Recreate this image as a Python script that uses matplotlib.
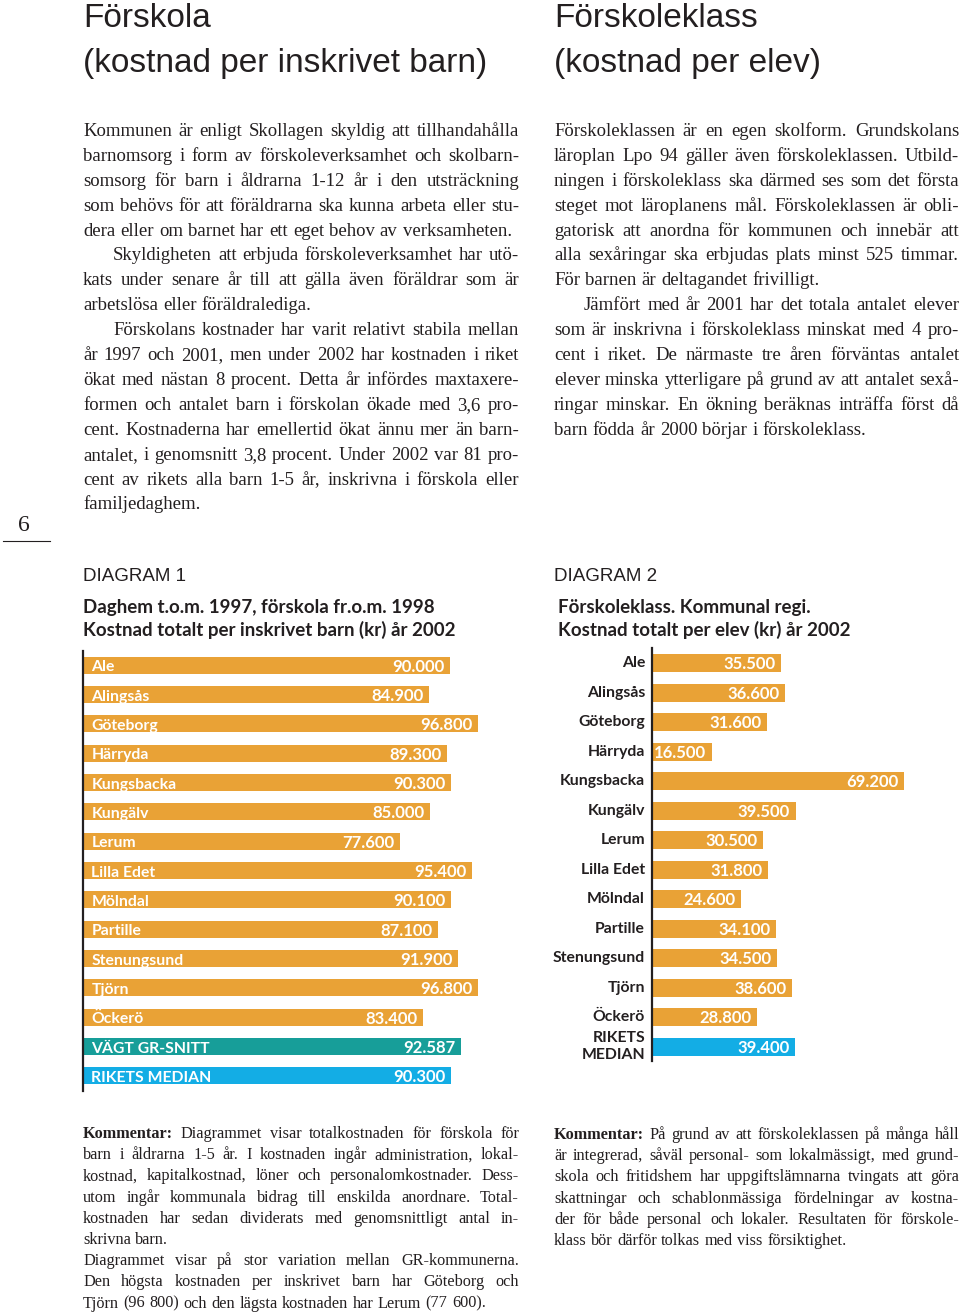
import matplotlib
matplotlib.use("Agg")
import matplotlib.pyplot as plt

# Figure size in pixels (dpi 100)
W, H = 960, 1312
DARK = "#231F20"
ORANGE = "#E9A236"
TEAL = "#179E99"
BLUE = "#13ADE5"
SERIF = ["Liberation Serif", "DejaVu Serif"]
SANS = ["Liberation Sans", "DejaVu Sans"]
BOLD = ["Lato", "DejaVu Sans"]

# Diagram 1: förskola, kostnad per inskrivet barn (kr) 2002
forskola_kommuner = ["Ale", "Alingsås", "Göteborg", "Härryda", "Kungsbacka", "Kungälv",
                     "Lerum", "Lilla Edet", "Mölndal", "Partille", "Stenungsund", "Tjörn",
                     "Öckerö", "VÄGT GR-SNITT", "RIKETS MEDIAN"]
forskola_kostnad = [90000, 84900, 96800, 89300, 90300, 85000, 77600, 95400, 90100, 87100,
                    91900, 96800, 83400, 92587, 90300]

# Diagram 2: förskoleklass, kostnad per elev (kr) 2002
fklass_kommuner = ["Ale", "Alingsås", "Göteborg", "Härryda", "Kungsbacka", "Kungälv",
                   "Lerum", "Lilla Edet", "Mölndal", "Partille", "Stenungsund", "Tjörn",
                   "Öckerö", "RIKETS\nMEDIAN"]
fklass_kostnad = [35500, 36600, 31600, 16500, 69200, 39500, 30500, 31800, 24600, 34100,
                  34500, 38600, 28800, 39400]

text_vanster = [
    ["Kommunen är enligt Skollagen skyldig att tillhandahålla",
     "barnomsorg i form av förskoleverksamhet och skolbarn-",
     "somsorg för barn i åldrarna 1-12 år i den utsträckning",
     "som behövs för att föräldrarna ska kunna arbeta eller stu-",
     "dera eller om barnet har ett eget behov av verksamheten."],
    ["Skyldigheten att erbjuda förskoleverksamhet har utö-",
     "kats under senare år till att gälla även föräldrar som är",
     "arbetslösa eller föräldralediga."],
    ["Förskolans kostnader har varit relativt stabila mellan",
     "år 1997 och 2001, men under 2002 har kostnaden i riket",
     "ökat med nästan 8 procent. Detta år infördes maxtaxere-",
     "formen och antalet barn i förskolan ökade med 3,6 pro-",
     "cent. Kostnaderna har emellertid ökat ännu mer än barn-",
     "antalet, i genomsnitt 3,8 procent. Under 2002 var 81 pro-",
     "cent av rikets alla barn 1-5 år, inskrivna i förskola eller",
     "familjedaghem."],
]
text_hoger = [
    ["Förskoleklassen är en egen skolform. Grundskolans",
     "läroplan Lpo 94 gäller även förskoleklassen. Utbild-",
     "ningen i förskoleklass ska därmed ses som det första",
     "steget mot läroplanens mål. Förskoleklassen är obli-",
     "gatorisk att anordna för kommunen och innebär att",
     "alla sexåringar ska erbjudas plats minst 525 timmar.",
     "För barnen är deltagandet frivilligt."],
    ["Jämfört med år 2001 har det totala antalet elever",
     "som är inskrivna i förskoleklass minskat med 4 pro-",
     "cent i riket. De närmaste tre åren förväntas antalet",
     "elever minska ytterligare på grund av att antalet sexå-",
     "ringar minskar. En ökning beräknas inträffa först då",
     "barn födda år 2000 börjar i förskoleklass."],
]
kommentar_vanster = [
    ["Kommentar: Diagrammet visar totalkostnaden för förskola för",
     "barn i åldrarna 1-5 år. I kostnaden ingår administration, lokal-",
     "kostnad, kapitalkostnad, löner och personalomkostnader. Dess-",
     "utom ingår kommunala bidrag till enskilda anordnare. Total-",
     "kostnaden har sedan dividerats med genomsnittligt antal in-",
     "skrivna barn."],
    ["Diagrammet visar på stor variation mellan GR-kommunerna.",
     "Den högsta kostnaden per inskrivet barn har Göteborg och",
     "Tjörn (96 800) och den lägsta kostnaden har Lerum (77 600)."],
]
kommentar_hoger = [
    ["Kommentar: På grund av att förskoleklassen på många håll",
     "är integrerad, såväl personal- som lokalmässigt, med grund-",
     "skola och fritidshem har uppgiftslämnarna tvingats att göra",
     "skattningar och schablonmässiga fördelningar av kostna-",
     "der för både personal och lokaler. Resultaten för förskole-",
     "klass bör därför tolkas med viss försiktighet."],
]

fig = plt.figure(figsize=(W / 100, H / 100), dpi=100)
renderer = fig.canvas.get_renderer()


def fx(x):
    return x / W


def fy(y):
    return 1 - y / H


def rad(x0, x1, y, line, size, justera, fet_forsta=False):
    """Draw one line of body text, justified between x0 and x1 (pixels)."""
    ord_ = line.split(" ")
    arts = []
    for k, w in enumerate(ord_):
        vikt = "bold" if (fet_forsta and k == 0) else "normal"
        arts.append(fig.text(0, fy(y), w, fontsize=size, family=SERIF, weight=vikt,
                             color=DARK, va="baseline", ha="left"))
    bredd = [a.get_window_extent(renderer).width for a in arts]
    if justera and len(ord_) > 1:
        gap = (x1 - x0 - sum(bredd)) / (len(ord_) - 1)
    else:
        gap = size * 100 / 72 * 0.27
    x = x0
    for a, b in zip(arts, bredd):
        a.set_x(fx(x))
        x += b + gap


def stycken(x0, x1, y0, dy, paragrafer, size, indrag, kommentar=False):
    y = y0
    for p, para in enumerate(paragrafer):
        for i, line in enumerate(para):
            start = x0 + (indrag if (i == 0 and p > 0) else 0)
            sista = i == len(para) - 1
            rad(start, x1, y, line, size, not sista,
                fet_forsta=(kommentar and p == 0 and i == 0))
            y += dy


# headings
for x, rubrik in [(83, ["Förskola", "(kostnad per inskrivet barn)"]),
                  (554, ["Förskoleklass", "(kostnad per elev)"])]:
    fig.text(fx(x), fy(27), rubrik[0], fontsize=24, family=SANS, color=DARK, va="baseline")
    fig.text(fx(x), fy(72), rubrik[1], fontsize=24, family=SANS, color=DARK, va="baseline")

# body text
stycken(83, 519, 136, 24.9, text_vanster, 13.5, 30)
stycken(554, 959, 136, 24.9, text_hoger, 13.5, 30)
stycken(83, 519, 1138, 21.2, kommentar_vanster, 11.7, 0, kommentar=True)
stycken(554, 959, 1139, 21.2, kommentar_hoger, 11.7, 0, kommentar=True)

# page number
fig.text(fx(24), fy(531), "6", fontsize=17, family=SERIF, color=DARK, ha="center", va="baseline")
fig.add_artist(plt.Line2D([fx(3), fx(50)], [fy(541), fy(541)], color=DARK, lw=0.8))

# diagram headings
fig.text(fx(83), fy(581), "DIAGRAM 1", fontsize=13.5, family=SANS, color=DARK, va="baseline")
fig.text(fx(554), fy(581), "DIAGRAM 2", fontsize=13.5, family=SANS, color=DARK, va="baseline")
fig.text(fx(83), fy(613), "Daghem t.o.m. 1997, förskola fr.o.m. 1998", fontsize=13.5,
         family=BOLD, weight="bold", color=DARK, va="baseline")
fig.text(fx(83), fy(636), "Kostnad totalt per inskrivet barn (kr) år 2002", fontsize=13.5,
         family=BOLD, weight="bold", color=DARK, va="baseline")
fig.text(fx(558), fy(613), "Förskoleklass. Kommunal regi.", fontsize=13.5,
         family=BOLD, weight="bold", color=DARK, va="baseline")
fig.text(fx(558), fy(636), "Kostnad totalt per elev (kr) år 2002", fontsize=13.5,
         family=BOLD, weight="bold", color=DARK, va="baseline")


def tal(v):
    return f"{v:,}".replace(",", ".")


def stil_axel(ax):
    for s in ["top", "right", "bottom"]:
        ax.spines[s].set_visible(False)
    ax.spines["left"].set_color(DARK)
    ax.spines["left"].set_linewidth(1.6)
    ax.set_xticks([])
    ax.set_yticks([])
    ax.patch.set_alpha(0)


# Diagram 1
top1, bot1 = 650.5, 1090.5
ax1 = fig.add_axes([fx(83), fy(bot1), 408 / W, (bot1 - top1) / H])
farg1 = [ORANGE] * 13 + [TEAL, BLUE]
pos1 = list(range(len(forskola_kommuner)))
ax1.barh(pos1, forskola_kostnad, height=0.58, color=farg1)
ax1.set_xlim(0, 100000)
ax1.set_ylim(len(pos1) - 0.5, -0.5)
stil_axel(ax1)
for i, (namn, v) in enumerate(zip(forskola_kommuner, forskola_kostnad)):
    ax1.annotate(namn, (0, i), xytext=(6, -1.5), textcoords="offset points", ha="left",
                 va="center", color="white", fontsize=11.3, family=BOLD, weight="bold")
    ax1.annotate(tal(v), (v, i), xytext=(-4, -1), textcoords="offset points", ha="right",
                 va="center", color="white", fontsize=12, family=BOLD, weight="bold")

# Diagram 2
top2, bot2 = 648.3, 1061.3
ax2 = fig.add_axes([fx(652), fy(bot2), 291 / W, (bot2 - top2) / H])
farg2 = [ORANGE] * 13 + [BLUE]
pos2 = list(range(len(fklass_kommuner)))
ax2.barh(pos2, fklass_kostnad, height=0.61, color=farg2)
ax2.set_xlim(0, 80000)
ax2.set_ylim(len(pos2) - 0.5, -0.5)
stil_axel(ax2)
for i, (namn, v) in enumerate(zip(fklass_kommuner, fklass_kostnad)):
    ax2.annotate(namn, (0, i), xytext=(-5, 0), textcoords="offset points", ha="right",
                 va="center", color=DARK, fontsize=11.3, family=BOLD, weight="bold",
                 linespacing=1.2, multialignment="right")
    ax2.annotate(tal(v), (v, i), xytext=(-4, -1), textcoords="offset points", ha="right",
                 va="center", color="white", fontsize=12, family=BOLD, weight="bold")

fig.savefig("out.png", dpi=100)
